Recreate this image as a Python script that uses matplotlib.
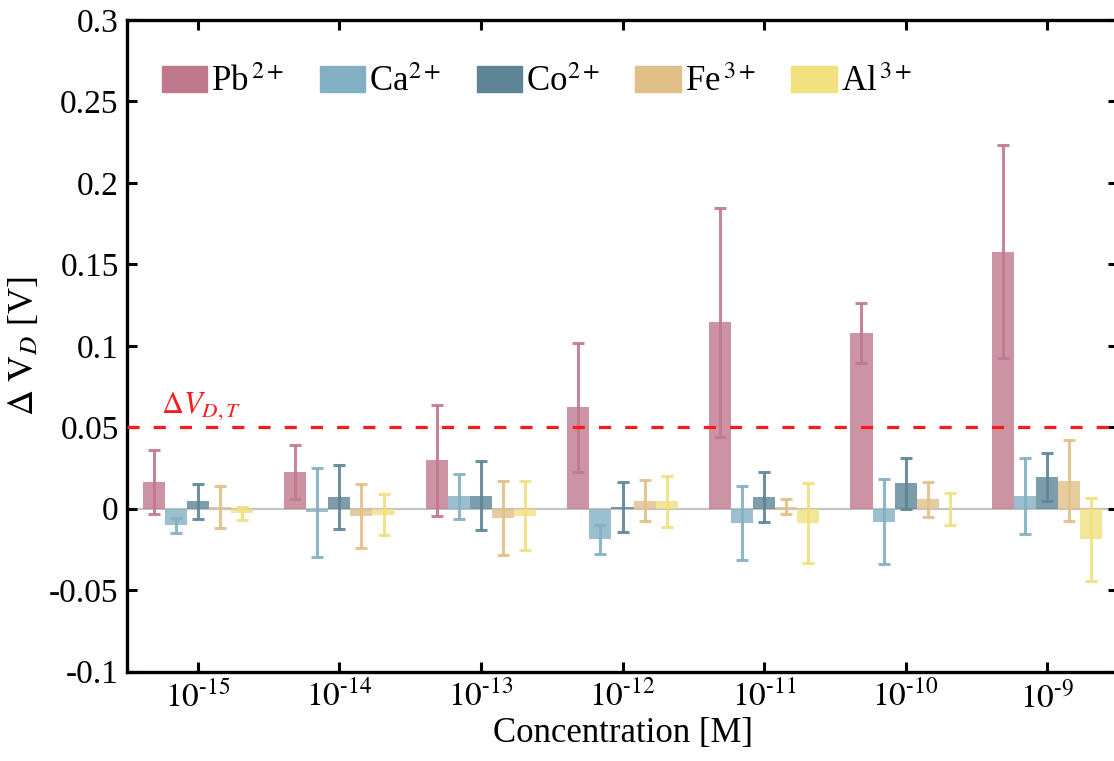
import matplotlib
matplotlib.use("Agg")
import matplotlib.pyplot as plt
import numpy as np

plt.rcParams['font.family'] = ['Liberation Serif', 'DejaVu Serif']
plt.rcParams['mathtext.fontset'] = 'stix'

categories = [r'$10^{\text{-}15}$', r'$10^{\text{-}14}$', r'$10^{\text{-}13}$', r'$10^{\text{-}12}$',
              r'$10^{\text{-}11}$', r'$10^{\text{-}10}$', r'$10^{\text{-}9}$']
ions = ['Pb$^{\\,2+}$', 'Ca$^{2+}$', 'Co$^{2+}$', 'Fe$^{\\,3+}$', 'Al$^{\\,3+}$']

pb = [0.0164, 0.0224, 0.0297, 0.0623, 0.1145, 0.1079, 0.1579]
pb_err = [0.0195, 0.0167, 0.0340, 0.0395, 0.0702, 0.0182, 0.0655]
ca = [-0.0102, -0.0022, 0.0076, -0.0188, -0.0088, -0.0080, 0.0076]
ca_err = [0.0048, 0.0275, 0.0137, 0.0088, 0.0228, 0.0262, 0.0233]
co = [0.0047, 0.0072, 0.0080, 0.0010, 0.0072, 0.0157, 0.0195]
co_err = [0.0107, 0.0197, 0.0213, 0.0153, 0.0155, 0.0157, 0.0146]
fe = [0.0013, -0.0046, -0.0055, 0.0048, 0.0013, 0.0058, 0.0172]
fe_err = [0.0129, 0.0198, 0.0227, 0.0126, 0.0044, 0.0108, 0.0248]
al = [-0.0028, -0.0036, -0.0042, 0.0045, -0.0087, 0.0000, -0.0188]
al_err = [0.0040, 0.0128, 0.0210, 0.0155, 0.0245, 0.0097, 0.0256]

yticks = [-0.1, -0.05, 0, 0.05, 0.1, 0.15, 0.2, 0.25, 0.3]
ytick_labels = ['-0.1', '-0.05', '0', '0.05', '0.1', '0.15', '0.2', '0.25', '0.3']
threshold = 0.05

colors = ['#C0788F', '#82B0C2', '#5E8595', '#E0C088', '#F0E07E']
series = [pb, ca, co, fe, al]
errors = [pb_err, ca_err, co_err, fe_err, al_err]

fig = plt.figure(figsize=(11.14, 7.61), dpi=100)
ax = fig.add_axes([0.114, 0.1174, 0.8896, 0.8563])

x = np.arange(len(categories))
w = 0.156
ax.axhline(0, color='#c4c4c4', lw=1.6, zorder=1)
for i, (vals, errs, c, lab) in enumerate(zip(series, errors, colors, ions)):
    pos = x + (i - 2) * w
    ax.bar(pos, vals, width=w, color=c, alpha=0.8, zorder=2, linewidth=0)
    ax.errorbar(pos, vals, yerr=errs, fmt='none', ecolor=c, elinewidth=2.2,
                capsize=4.5, capthick=2.2, alpha=0.9, zorder=3)

ax.axhline(threshold, color='#FF1A1A', lw=2.3, ls=(0, (3.8, 4.4)), zorder=4)
ax.text(-0.26, threshold + 0.009, r'$\mathit{\Delta V}_{D,T}$', color='#FF1A1A',
        fontsize=22, ha='left', va='baseline')

handles = [plt.Rectangle((0, 0), 1, 1, color=c) for c in colors]
ax.legend(handles, ions, loc='center left', bbox_to_anchor=(0.035, 0.904), ncol=5,
          frameon=False, fontsize=25, handlelength=1.3, handleheight=0.8,
          handletextpad=0.12, columnspacing=1.02, borderpad=0, borderaxespad=0)

ax.set_xlim(-0.5, 6.5)
ax.set_ylim(-0.1, 0.3)
ax.set_xticks(x)
ax.set_xticklabels(categories, fontsize=24)
ax.set_yticks(yticks)
ax.set_yticklabels(ytick_labels, fontsize=24)
ax.tick_params(axis='both', direction='in', length=7.5, width=2.2, top=True, right=True)
ax.tick_params(axis='y', pad=6)
ax.tick_params(axis='x', pad=7)
for s in ax.spines.values():
    s.set_linewidth(2.4)

ax.set_xlabel('Concentration [M]', fontsize=25, labelpad=2)
ax.set_ylabel(r'$\Delta\ \mathrm{V}_{D}$ [V]', fontsize=26, labelpad=6)

fig.savefig('out.png', dpi=100)
